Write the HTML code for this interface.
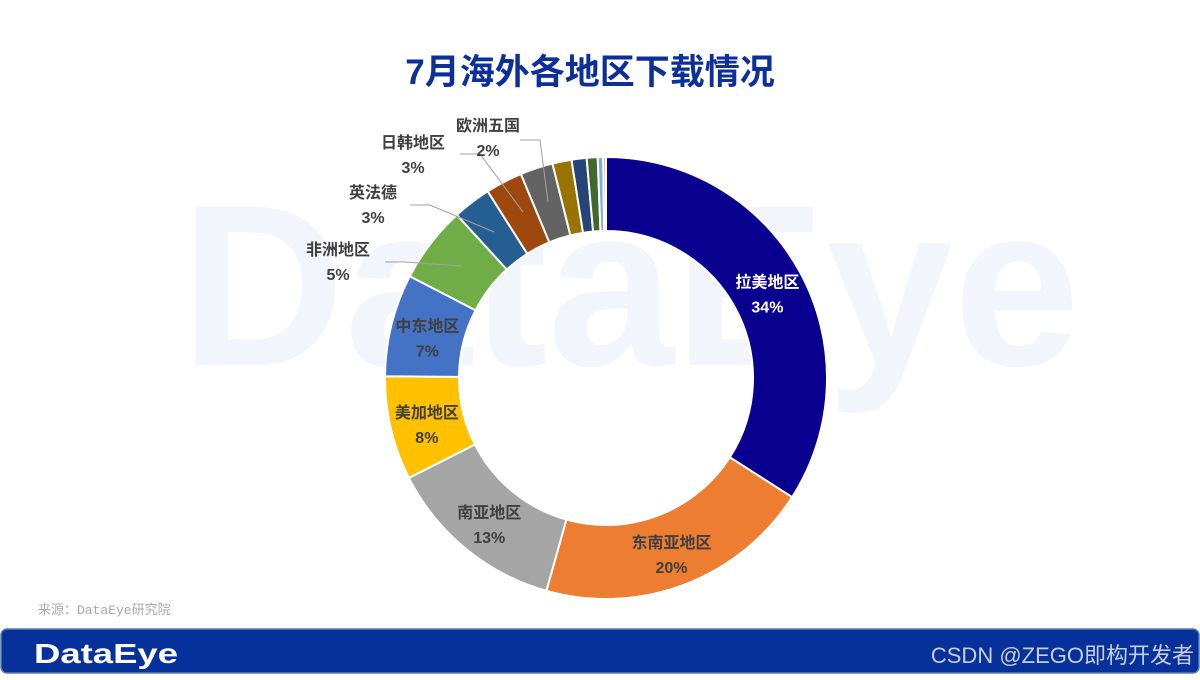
<!DOCTYPE html>
<html><head><meta charset="utf-8"><style>
html,body{margin:0;padding:0;background:#fff;}
body{width:1200px;height:675px;overflow:hidden;position:relative;font-family:"Liberation Sans","Noto Sans CJK SC",sans-serif;}
</style></head><body>
<svg width="1200" height="675" viewBox="0 0 1200 675" id="chart">
  <text x="180" y="365" font-size="230" font-weight="bold" fill="#f2f6fc" textLength="900" lengthAdjust="spacingAndGlyphs" font-family="Liberation Sans,sans-serif">DataEye</text>
  <text x="590" y="84" text-anchor="middle" font-size="35" font-weight="bold" fill="#0d2f9a" font-family="Liberation Sans,Noto Sans CJK SC,sans-serif">7月海外各地区下载情况</text>
  <g id="slices"></g>
  <g id="leaders" stroke="#a0a0a0" stroke-width="1" fill="none">
    <polyline points="520,140 540,140 548,202"/>
    <polyline points="460,154 480,154 523,212"/>
    <polyline points="410,205 430,205 494,232"/>
    <polyline points="385,262 405,262 462,266"/>
  </g>
  <g id="labels" font-size="16" font-weight="bold" text-anchor="middle" font-family="Liberation Sans,Noto Sans CJK SC,sans-serif"></g>
  <text x="38" y="614" font-size="13" fill="#a8a8a8" font-family="Liberation Mono,Noto Sans CJK SC,monospace">来源：DataEye研究院</text>
  <rect x="1" y="629" width="1198" height="44" rx="6" fill="#06309a" stroke="#5a7fa8" stroke-width="1.5"/>
  <text x="34" y="663" font-size="28" font-weight="bold" fill="#fff" font-family="Liberation Sans,sans-serif" textLength="144" lengthAdjust="spacingAndGlyphs">DataEye</text>
  <text x="1194" y="663" text-anchor="end" font-size="22" fill="#c8cde0" font-family="Liberation Sans,Noto Sans CJK SC,sans-serif">CSDN @ZEGO即构开发者</text>
</svg>
<script>
const categories = ["拉美地区","东南亚地区","南亚地区","美加地区","中东地区","非洲地区","英法德","日韩地区","欧洲五国","其他1","其他2","其他3","其他4","其他5"];
const values = [34.1,20.3,13.2,7.6,7.5,5.6,2.8,2.7,2.4,1.4,1.1,0.8,0.4,0.2];
const pctLabels = ["34%","20%","13%","8%","7%","5%","3%","3%","2%","","","","",""];
const colors = ["#0a0090","#ed7d31","#a5a5a5","#ffc000","#4472c4","#70ad47","#255e91","#9e480e","#636363","#997300","#264478","#43682b","#7cafdd","#f1975a"];
const cx=606, cy=378, R=221, r=147;
const NS="http://www.w3.org/2000/svg";
const total=values.reduce((a,b)=>a+b,0);
function pt(a,rad){return [cx+rad*Math.sin(a), cy-rad*Math.cos(a)];}
let a0=0;
const sg=document.getElementById('slices');
const lg=document.getElementById('labels');
const outside={5:[338,249],6:[373,192],7:[413,142],8:[488,125]};
values.forEach((v,i)=>{
  const a1=a0+v/total*2*Math.PI;
  const [x1,y1]=pt(a0,R),[x2,y2]=pt(a1,R),[x3,y3]=pt(a1,r),[x4,y4]=pt(a0,r);
  const lf=(a1-a0)>Math.PI?1:0;
  const p=document.createElementNS(NS,'path');
  p.setAttribute('d',`M${x1},${y1}A${R},${R} 0 ${lf} 1 ${x2},${y2}L${x3},${y3}A${r},${r} 0 ${lf} 0 ${x4},${y4}Z`);
  p.setAttribute('fill',colors[i]);
  p.setAttribute('stroke','#fff');
  p.setAttribute('stroke-width','2');
  
  
  sg.appendChild(p);
  if(pctLabels[i]){
    let lx,ly;
    if(outside[i]){[lx,ly]=outside[i];}
    else{const m=(a0+a1)/2;[lx,ly]=pt(m,(R+r)/2);ly-=8;}
    const fill=(i===0)?'#fff':'#404040';
    const t1=document.createElementNS(NS,'text');
    t1.setAttribute('x',lx);t1.setAttribute('y',ly+6);t1.setAttribute('fill',fill);
    t1.textContent=categories[i];
    
    
    lg.appendChild(t1);
    const t2=document.createElementNS(NS,'text');
    t2.setAttribute('x',lx);t2.setAttribute('y',ly+31);t2.setAttribute('fill',fill);
    t2.textContent=pctLabels[i];
    
    
    lg.appendChild(t2);
  }
  a0=a1;
});
</script>
</body></html>
